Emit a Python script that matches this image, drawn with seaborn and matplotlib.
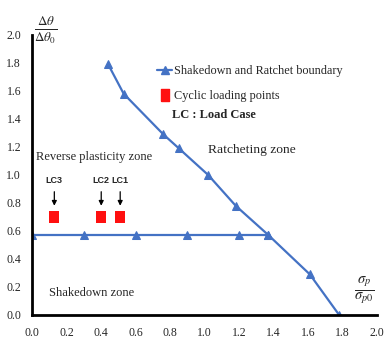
import numpy as np
import pandas as pd
import matplotlib
matplotlib.use('Agg')
import matplotlib.pyplot as plt
from matplotlib.lines import Line2D
import seaborn as sns

# ---- data ----
boundary_x = [0.44, 0.53, 0.76, 0.85, 1.02, 1.18, 1.37, 1.61, 1.78]
boundary_y = [1.79, 1.58, 1.29, 1.19, 1.00, 0.78, 0.57, 0.29, 0.00]
reverse_x = [0.0, 0.3, 0.6, 0.9, 1.2, 1.37]
reverse_y = [0.57, 0.57, 0.57, 0.57, 0.57, 0.57]
lc_names = ['LC1', 'LC2', 'LC3']
lc_x = [0.51, 0.40, 0.128]
lc_y = [0.70, 0.70, 0.70]
ticks = [0.0, 0.2, 0.4, 0.6, 0.8, 1.0, 1.2, 1.4, 1.6, 1.8, 2.0]

sns.set_style('white')
plt.rcParams['font.family'] = ['Liberation Serif', 'DejaVu Serif']
plt.rcParams['mathtext.fontset'] = 'stix'

blue = '#4472C4'
red = '#FF1010'
# tall rectangle marker for the loading points
rect = [(-0.75, -1), (0.75, -1), (0.75, 1), (-0.75, 1), (-0.75, -1)]

fig = plt.figure(figsize=(3.84, 3.42), dpi=100)
ax = fig.add_axes([0.084, 0.079, 0.898, 0.819])

df_b = pd.DataFrame({'x': boundary_x, 'y': boundary_y})
df_r = pd.DataFrame({'x': reverse_x, 'y': reverse_y})
df_lc = pd.DataFrame({'x': lc_x, 'y': lc_y, 'name': lc_names})

sns.lineplot(data=df_b, x='x', y='y', ax=ax, color=blue, lw=1.6,
             marker='^', markersize=5.5, markeredgecolor=blue, sort=False)
sns.lineplot(data=df_r, x='x', y='y', ax=ax, color=blue, lw=1.6,
             marker='^', markersize=5.5, markeredgecolor=blue, sort=False)
sns.scatterplot(data=df_lc, x='x', y='y', ax=ax, color=red, marker=rect,
                s=75, edgecolor=red, linewidth=0)

for name, x, y in zip(lc_names, lc_x, lc_y):
    ax.annotate('', xy=(x, y + 0.06), xytext=(x, y + 0.2),
                arrowprops=dict(arrowstyle='-|>', color='black', lw=0.9,
                                mutation_scale=7))
    ax.text(x, y + 0.26, name, ha='center', va='center', fontsize=6.5,
            fontweight='bold', family=['Liberation Sans', 'DejaVu Sans'])

ax.set_xlim(0, 2.0)
ax.set_ylim(0, 2.0)
ax.set_xticks(ticks)
ax.set_yticks(ticks)
ax.set_xticklabels([f'{t:.1f}' for t in ticks], fontsize=8.5)
ax.set_yticklabels([f'{t:.1f}' for t in ticks], fontsize=8.5)
ax.tick_params(axis='x', length=3, width=0.6, color='#999999', pad=6)
ax.tick_params(axis='y', length=0, pad=8)
ax.set_xlabel('')
ax.set_ylabel('')

for side in ['top', 'right']:
    ax.spines[side].set_visible(False)
for side in ['left', 'bottom']:
    ax.spines[side].set_color('black')
    ax.spines[side].set_linewidth(2)

ax.text(0.012, 2.03, r'$\frac{\Delta\theta}{\Delta\theta_0}$', fontsize=13.5,
        ha='left', va='center', clip_on=False)
ax.text(1.865, 0.17, r'$\frac{\sigma_p}{\sigma_{p0}}$', fontsize=15,
        ha='left', va='center', clip_on=False)

ax.text(1.02, 1.18, 'Ratcheting zone', fontsize=9.7, ha='left', va='center')
ax.text(0.02, 1.13, 'Reverse plasticity zone', fontsize=9, ha='left', va='center')
ax.text(0.10, 0.16, 'Shakedown zone', fontsize=9, ha='left', va='center')

handles = [Line2D([0], [0], color=blue, lw=1.6, marker='^', markersize=5.5),
           Line2D([0], [0], color=red, lw=0, marker=rect, markersize=8.6)]
leg = ax.legend(handles, ['Shakedown and Ratchet boundary', 'Cyclic loading points'],
                loc='upper left', bbox_to_anchor=(0.345, 0.915), frameon=False,
                fontsize=8.8, handlelength=1.2, handletextpad=0.2, labelspacing=1.1,
                borderpad=0)
ax.text(0.81, 1.43, 'LC : Load Case', fontsize=9, fontweight='bold',
        ha='left', va='center')

fig.savefig('out.png', dpi=100)
